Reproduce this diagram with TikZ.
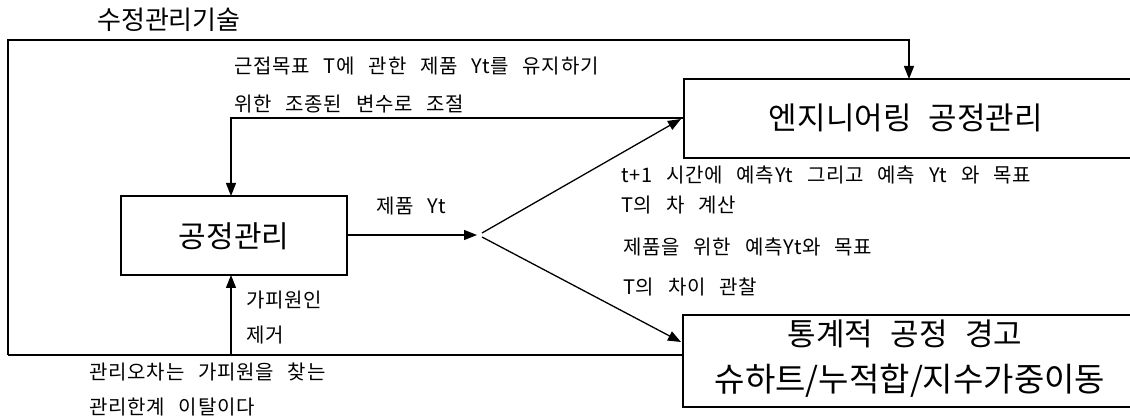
\documentclass[tikz,border=0pt]{standalone}
\usepackage{fontspec}
\setmainfont{Noto Sans CJK KR}
\newfontfamily\kr[WordSpace=2.6,LetterSpace=4]{Noto Sans CJK KR}
\newfontfamily\krbig[WordSpace=2.5]{Noto Sans CJK KR}
\usetikzlibrary{arrows.meta}
\begin{document}
\begin{tikzpicture}[x=1pt,y=-1pt,
  box/.style={draw,line width=2.6pt,inner sep=0pt},
  conn/.style={line width=1.3pt},
  arr/.style={conn,-{Triangle[length=13pt,width=10pt]}},
  lbl/.style={anchor=west,inner sep=0pt,font=\kr\fontsize{20}{20}\selectfont},
  big/.style={font=\krbig\fontsize{31}{31}\selectfont,inner sep=0pt}]
\useasboundingbox (0,0) rectangle (1130,419);
% boxes
\draw[box] (121,196) rectangle (347,275);
\node[big,font=\krbig\fontsize{30}{30}\selectfont] (pc) at (234,236) {공정관리};
\coordinate (pcN) at (231,196);
\coordinate (pcS) at (231,275);
\coordinate (pcE) at (347,235);
\draw[box] (684,79) rectangle (1145,158);
\node[big] (ec) at (906,118) {엔지니어링 공정관리};
\coordinate (ecN) at (909,79);
\coordinate (ecW) at (684,118);
\draw[box] (683,315) rectangle (1145,407);
\node[big] (sp1) at (905,334) {통계적 공정 경고};
\node[big,font=\krbig\fontsize{33}{33}\selectfont] (sp2) at (910,381) {슈하트/누적합/지수가중이동};
\coordinate (spW) at (683,355);
\coordinate (spA) at (681,342);
\coordinate (ecA) at (681,119);
% corner coordinates
\coordinate (tl) at (8,40);
\coordinate (bl) at (8,355);
\coordinate (tr) at (909,40);
\coordinate (fb) at (231,118);
\coordinate (bb) at (231,355);
\coordinate (br) at (477,235);
\coordinate (bu) at (482,233);
\coordinate (bd) at (482,237);
% connectors
\draw[arr] (bl) -- (tl) -- (tr) -- (ecN);
\draw[conn] (bl) -- (spW);
\draw[arr] (bb) -- (pcS);
\draw[arr] (ecW) -- (fb) -- (pcN);
\draw[arr] (pcE) -- (br);
\draw[arr] (bu) -- (ecA);
\draw[arr] (bd) -- (spA);
% labels
\node[anchor=west,inner sep=0pt,font=\krbig\fontsize{26}{26}\selectfont] (title) at (97,20) {수정관리기술};
\node[lbl] (t1) at (234,66) {근접목표 T에 관한 제품 Yt를 유지하기};
\node[lbl] (t2) at (234,104) {위한 조종된 변수로 조절};
\node[lbl] (t3) at (376,206) {제품 Yt};
\node[lbl] (t4) at (621,175) {t+1 시간에 예측Yt 그리고 예측 Yt 와 목표};
\node[lbl] (t5) at (621,205) {T의 차 계산};
\node[lbl] (t6) at (623,247) {제품을 위한 예측Yt와 목표};
\node[lbl] (t7) at (623,287) {T의 차이 관찰};
\node[lbl] (t8) at (246,300) {가피원인};
\node[lbl] (t9) at (246,335) {제거};
\node[lbl] (t10) at (89,372) {관리오차는 가피원을 찾는};
\node[lbl] (t11) at (89,407) {관리한계 이탈이다};
\end{tikzpicture}
\end{document}
